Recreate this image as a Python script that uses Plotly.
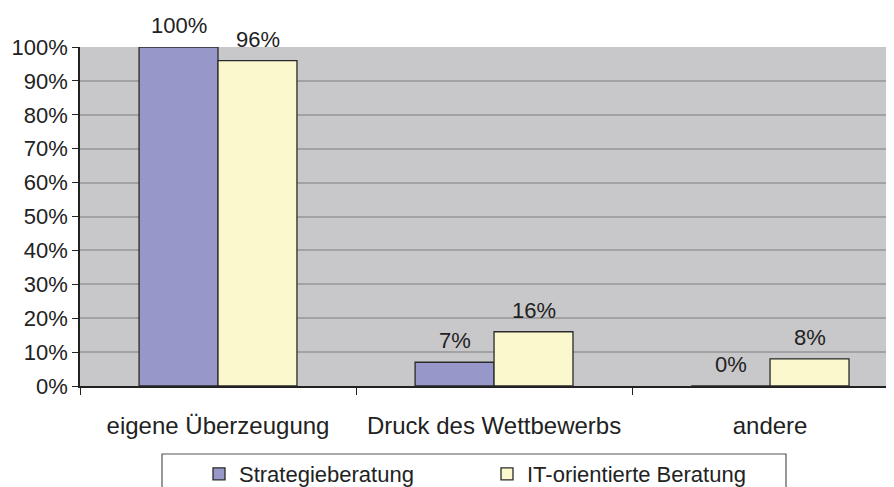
import plotly.graph_objects as go

categories = ["eigene Überzeugung", "Druck des Wettbewerbs", "andere"]
strategie = [100, 7, 0]
it_beratung = [96, 16, 8]
series_names = ["Strategieberatung", "IT-orientierte Beratung"]
y_ticks = list(range(0, 101, 10))
y_tick_labels = [f"{v}%" for v in y_ticks]

FONT = "Liberation Sans, Arial, sans-serif"
colors = ["#9797C9", "#FAF8CC"]

# page body has an 8px margin -> figure sized to fit the 894x487 window
fig = go.Figure()
for name, vals, col in zip(series_names, [strategie, it_beratung], colors):
    fig.add_trace(go.Bar(
        x=categories, y=vals, name=name,
        marker=dict(color=col, line=dict(color="#2a2a2a", width=1.3)),
    ))

# data labels above bars
for k, vals in enumerate([strategie, it_beratung]):
    for c, v in zip(categories, vals):
        fig.add_annotation(
            x=c, y=v, text=f"{v}%", showarrow=False,
            yanchor="bottom", yshift=7, xshift=(-39.5 if k == 0 else 39.5),
            font=dict(family=FONT, size=22, color="#222"),
        )

# legend frame (paper coords relative to plot area: left 80, width 814, bottom 386, height 339)
fig.add_shape(type="rect", xref="paper", yref="paper",
              x0=(162 - 80) / 814, x1=(786 - 80) / 814,
              y0=(386 - 520) / 339, y1=(386 - 454) / 339,
              line=dict(color="#555", width=1.2), fillcolor="rgba(0,0,0,0)")

fig.update_layout(
    width=886, height=479, autosize=False,
    margin=dict(l=72, r=0, t=39, b=101, autoexpand=False),
    paper_bgcolor="white", plot_bgcolor="#C8C8CA",
    font=dict(family=FONT, color="#222"),
    barmode="group", bargap=0.428, bargroupgap=0,
    showlegend=True,
    legend=dict(orientation="h", x=(199 - 80) / 814, xanchor="left",
                y=(386 - 453) / 339, yanchor="top",
                font=dict(family=FONT, size=22, color="#222"),
                entrywidth=243, entrywidthmode="pixels",
                bgcolor="rgba(0,0,0,0)", borderwidth=0),
    xaxis=dict(type="category", range=[-0.5, 2.449], tickson="boundaries",
               ticks="outside", ticklen=7, tickcolor="#222", tickwidth=1.3,
               showline=True, linecolor="#222", linewidth=1.5, showgrid=False,
               tickfont=dict(family=FONT, size=24, color="#222"),
               ticklabelstandoff=17, automargin=False),
    yaxis=dict(range=[0, 100], tickvals=y_ticks, ticktext=y_tick_labels,
               ticks="outside", ticklen=6, tickcolor="#222", tickwidth=1.3,
               showline=True, linecolor="#222", linewidth=1.5,
               showgrid=True, gridcolor="#A2A2A2", gridwidth=1.5, zeroline=False,
               tickfont=dict(family=FONT, size=22, color="#222"),
               automargin=False),
)

fig.write_html("out.html")
